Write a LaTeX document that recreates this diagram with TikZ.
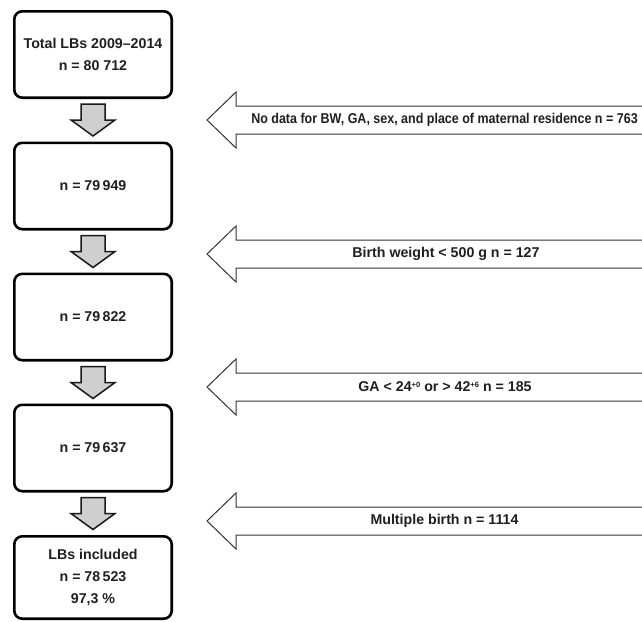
\documentclass[tikz,border=0pt]{standalone}
\usepackage{fontspec}
\setmainfont{Liberation Sans}
\usepackage{graphicx}
\newcommand{\smallsup}[1]{\raisebox{4.6pt}{\fontsize{7.6}{8}\selectfont #1}}
\begin{document}
\begin{tikzpicture}[x=1pt,y=-1pt,
  box/.style={draw=black, line width=2.6pt, rounded corners=8pt, fill=white,
    minimum width=157.4pt, minimum height=86.4pt, align=center, inner sep=0pt,
    text=black!88, font=\bfseries\fontsize{14.2}{22}\selectfont},
  downarr/.style={draw=black!90, fill=black!19, line width=1.5pt, line join=miter},
  leftarr/.style={draw=black!80, fill=white, line width=1pt, line join=miter},
  lbl/.style={inner sep=0pt, text=black!88, font=\bfseries\fontsize{14.2}{17}\selectfont}]
\useasboundingbox (0,0) rectangle (642,621);

% boxes
\node[box] (b1) at (93,54.5) {Total LBs 2009–2014\\n = 80 712};
\node[box] (b2) at (93,186) {n = 79\,949};
\node[box] (b3) at (93,317) {n = 79\,822};
\node[box] (b4) at (93,448) {n = 79\,637};
\node[box, minimum height=82.4pt] (b5) at (93,577.5) {LBs included\\n = 78\,523\\97,3 \%};

% down block arrows
\foreach \b in {b1,b2,b3,b4}{
  \draw[downarr] (\b.south) ++(-12,5) -- ++(0,16) -- ++(-10,0) -- ++(22,16)
    -- ++(22,-16) -- ++(-10,0) -- ++(0,-16) -- cycle;
}

% left block arrows
\draw[leftarr] (646,106) -- (236,106) -- (236,92) -- (207,120) -- (236,148) -- (236,134) -- (646,134);
\draw[leftarr] (646,240) -- (236,240) -- (236,226) -- (207,254) -- (236,282) -- (236,268) -- (646,268);
\draw[leftarr] (646,373) -- (236,373) -- (236,359) -- (207,387) -- (236,415) -- (236,401) -- (646,401);
\draw[leftarr] (646,507) -- (236,507) -- (236,493) -- (207,521) -- (236,549) -- (236,535) -- (646,535);

\node[lbl] (l1) at (444.5,120) {\scalebox{0.88}[1]{No data for BW, GA, sex, and place of maternal residence n = 763}};
\node[lbl] (l2) at (446,254) {Birth weight < 500 g n = 127};
\node[lbl] (l3) at (445,387) {GA < 24\smallsup{+0} or > 42\smallsup{+6} n = 185};
\node[lbl] (l4) at (444.5,521) {Multiple birth n = 1114};
\end{tikzpicture}
\end{document}
